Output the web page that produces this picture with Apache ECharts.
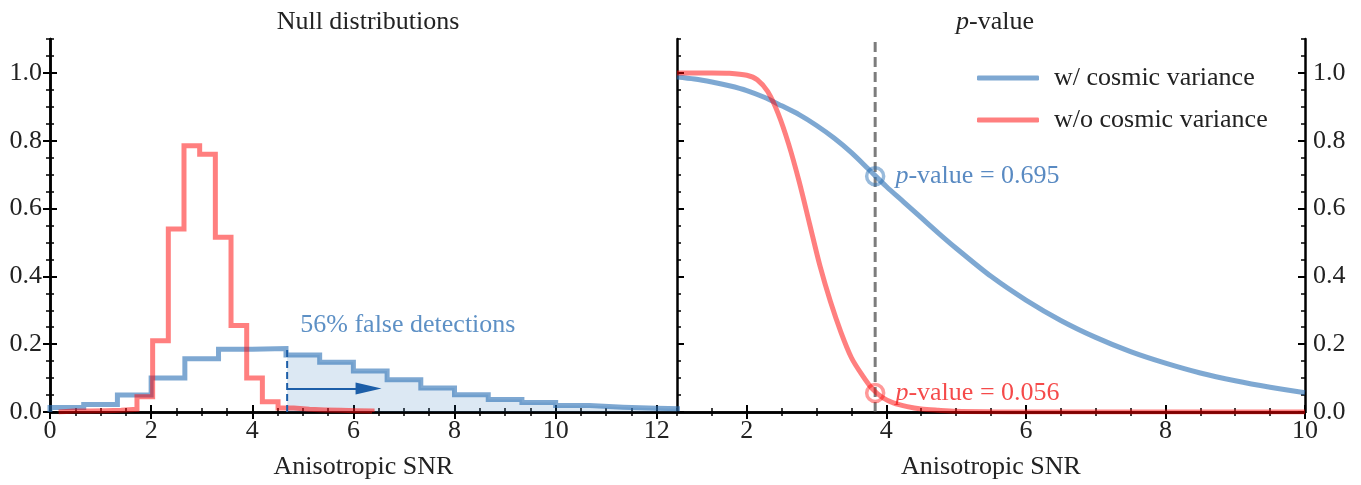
<!DOCTYPE html>
<html><head><meta charset="utf-8">
<script src="https://cdn.jsdelivr.net/npm/echarts@6/dist/echarts.min.js"></script>
<style>html,body{margin:0;padding:0;background:#fff}#c{width:1361px;height:485px}</style>
</head><body><div id="c"></div>
<script>
// ---------- data ----------
const blueEdges = [0, 0.667, 1.333, 2.0, 2.667, 3.333, 4.0, 4.667, 5.333, 6.0, 6.667, 7.333, 8.0, 8.667, 9.333, 10.0, 10.667, 11.333, 12.0, 12.667];
const blueCounts = [0.013, 0.022, 0.05, 0.10, 0.157, 0.185, 0.187, 0.168, 0.147, 0.121, 0.095, 0.071, 0.051, 0.037, 0.028, 0.019, 0.014, 0.011, 0.009];
const redEdges = [0.17, 0.48, 0.79, 1.10, 1.41, 1.72, 2.03, 2.34, 2.65, 2.96, 3.27, 3.58, 3.89, 4.20, 4.51, 4.82, 5.13, 5.44, 5.75, 6.06, 6.37];
const redCounts = [0.003, 0.003, 0.004, 0.005, 0.008, 0.045, 0.21, 0.54, 0.785, 0.76, 0.515, 0.255, 0.10, 0.03, 0.012, 0.008, 0.006, 0.005, 0.004, 0.003];
const threshold = 4.69;
const thresholdTop = 0.186;
const arrowY = 0.069;
const arrowEnd = 6.3;
const falseText = '56% false detections';
const falseTextPos = [4.95, 0.257];

const blueSNR = [1.0, 1.25, 1.5, 1.75, 2.0, 2.25, 2.5, 2.75, 3.0, 3.25, 3.5, 3.75, 4.0, 4.25, 4.5, 4.75, 5.0, 5.5, 6.0, 6.5, 7.0, 7.5, 8.0, 8.5, 9.0, 9.5, 10.0];
const blueP = [0.988, 0.982, 0.973, 0.962, 0.948, 0.928, 0.903, 0.877, 0.845, 0.808, 0.765, 0.715, 0.665, 0.619, 0.573, 0.527, 0.483, 0.40, 0.33, 0.27, 0.22, 0.178, 0.144, 0.115, 0.092, 0.073, 0.057];
const redSNR = [1.0, 1.5, 1.75, 2.0, 2.15, 2.3, 2.45, 2.6, 2.75, 2.9, 3.05, 3.2, 3.35, 3.5, 3.65, 3.8, 3.95, 4.1, 4.3, 4.5, 4.75, 5.0, 5.5, 6.0, 10.0];
const redP = [1.0, 1.0, 0.999, 0.993, 0.98, 0.945, 0.88, 0.79, 0.68, 0.555, 0.43, 0.325, 0.235, 0.16, 0.11, 0.068, 0.042, 0.027, 0.016, 0.009, 0.005, 0.002, 0.0005, 0, 0];
const observedSNR = 3.84;
const pBlue = 0.695;
const pRed = 0.056;
const legendNames = ['w/ cosmic variance', 'w/o cosmic variance'];
const leftXTicks = [0, 2, 4, 6, 8, 10, 12];
const rightXTicks = [2, 4, 6, 8, 10];
const yTicks = [0.0, 0.2, 0.4, 0.6, 0.8, 1.0];

// ---------- styles ----------
const FONT = 'Liberation Serif';
const FS = 26;
const BLUE = 'rgba(40,110,180,0.6)';
const RED = 'rgba(255,0,0,0.5)';
const FILL = 'rgba(40,110,180,0.23)';
const DARKBLUE = '#1c5ea8';
const TXTBLUE = '#3574b6';

function stepData(edges, counts) {
  const d = [[edges[0], 0]];
  for (let i = 0; i < counts.length; i++) d.push([edges[i], counts[i]]);
  d.push([edges[counts.length], counts[counts.length - 1]]);
  d.push([edges[counts.length], 0]);
  return d;
}
function fillData(edges, counts, thr) {
  const d = [];
  for (let i = 0; i < counts.length; i++) {
    if (edges[i + 1] <= thr) continue;
    d.push([Math.max(edges[i], thr), counts[i]]);
  }
  d.push([edges[counts.length], counts[counts.length - 1]]);
  return d;
}
function range(a, b, s) { const r = []; for (let v = a; v <= b + 1e-9; v += s) r.push(+v.toFixed(4)); return r; }
function minorsOf(all, majors) { return all.filter(v => !majors.some(m => Math.abs(m - v) < 1e-6)); }

const xAxis = [], yAxis = [];
function addX(grid, min, max, majors, minors) {
  const base = {type: 'value', gridIndex: grid, min, max, splitLine: {show: false}};
  xAxis.push(Object.assign({}, base, {position: 'bottom',
    axisLine: {show: true, lineStyle: {color: '#000', width: 2.5}},
    axisTick: {show: true, inside: true, length: 7, customValues: majors, lineStyle: {color: '#000', width: 2}},
    axisLabel: {show: true, customValues: majors, color: '#222', fontFamily: FONT, fontSize: FS, margin: 6},
    name: 'Anisotropic SNR', nameLocation: 'middle', nameGap: 42,
    nameTextStyle: {color: '#222', fontFamily: FONT, fontSize: FS}}));
  xAxis.push(Object.assign({}, base, {position: 'bottom', axisLine: {show: false},
    axisTick: {show: true, inside: true, length: 4, customValues: minors, lineStyle: {color: '#000', width: 1.5}},
    axisLabel: {show: false}}));
  xAxis.push(Object.assign({}, base, {position: 'top',
    axisLine: {show: true, lineStyle: {color: '#000', width: 2.5}},
    axisTick: {show: true, inside: true, length: 7, customValues: majors, lineStyle: {color: '#000', width: 2}},
    axisLabel: {show: false}}));
  xAxis.push(Object.assign({}, base, {position: 'top', axisLine: {show: false},
    axisTick: {show: true, inside: true, length: 4, customValues: minors, lineStyle: {color: '#000', width: 1.5}},
    axisLabel: {show: false}}));
}
function addY(grid, labelSide) {
  const majors = yTicks, minors = minorsOf(range(0, 1.1, 0.05), yTicks);
  const base = {type: 'value', gridIndex: grid, min: 0, max: 1.1, splitLine: {show: false}};
  ['left', 'right'].forEach(side => {
    yAxis.push(Object.assign({}, base, {position: side,
      axisLine: {show: true, lineStyle: {color: '#000', width: 2.5}},
      axisTick: {show: true, inside: true, length: 7, customValues: majors, lineStyle: {color: '#000', width: 2}},
      axisLabel: {show: side === labelSide, customValues: majors, color: '#222', fontFamily: FONT, fontSize: FS, margin: 8,
        formatter: v => v.toFixed(1)}}));
    yAxis.push(Object.assign({}, base, {position: side, axisLine: {show: false},
      axisTick: {show: true, inside: true, length: 4, customValues: minors, lineStyle: {color: '#000', width: 1.5}},
      axisLabel: {show: false}}));
  });
}
addX(0, 0, 12.4, leftXTicks, minorsOf(range(0, 12, 0.5), leftXTicks));
addY(0, 'left');
addX(1, 1, 10, rightXTicks, minorsOf(range(1, 10, 0.5), rightXTicks));
addY(1, 'right');

const pLabel = (col) => ({
  show: true, position: 'right', distance: 10, color: col,
  fontFamily: FONT, fontSize: FS,
  rich: {i: {fontStyle: 'italic', fontFamily: FONT, fontSize: FS, color: col}, n: {fontFamily: FONT, fontSize: FS, color: col}}
});

const option = {
  animation: false,
  textStyle: {fontFamily: FONT},
  title: [
    {text: 'Null distributions', left: 363, top: 4, textAlign: 'center',
      textStyle: {fontFamily: FONT, fontSize: FS, fontWeight: 'normal', color: '#222'}},
    {text: '{i|p}{n|-value}', left: 990, top: 4, textAlign: 'center',
      textStyle: {fontFamily: FONT, fontSize: FS, fontWeight: 'normal', color: '#222',
        rich: {i: {fontStyle: 'italic', fontFamily: FONT, fontSize: FS, color: '#222'},
               n: {fontFamily: FONT, fontSize: FS, color: '#222'}}}}
  ],
  grid: [
    {left: 50, right: 684, top: 39, bottom: 61},
    {left: 677, right: 56, top: 39, bottom: 61}
  ],
  legend: {
    data: legendNames, orient: 'vertical', left: 972, top: 60, itemGap: 16,
    icon: 'roundRect', itemWidth: 62, itemHeight: 5,
    textStyle: {fontFamily: FONT, fontSize: FS, color: '#222', lineHeight: 26, padding: [0, 0, 0, 10]}
  },
  xAxis, yAxis,
  series: [
    {type: 'line', name: 'fill', xAxisIndex: 0, yAxisIndex: 0, step: 'end', symbol: 'none',
      data: fillData(blueEdges, blueCounts, threshold), lineStyle: {width: 0}, areaStyle: {color: FILL}, z: 1},
    {type: 'line', name: 'hist_w', xAxisIndex: 0, yAxisIndex: 0, step: 'end', symbol: 'none',
      data: stepData(blueEdges, blueCounts), lineStyle: {color: BLUE, width: 5, join: 'miter'}, z: 2},
    {type: 'line', name: 'hist_wo', xAxisIndex: 0, yAxisIndex: 0, step: 'end', symbol: 'none',
      data: stepData(redEdges, redCounts), lineStyle: {color: RED, width: 5, join: 'miter'}, z: 3},
    {type: 'line', name: 'thr', xAxisIndex: 0, yAxisIndex: 0, symbol: 'none',
      data: [[threshold, 0], [threshold, thresholdTop]], lineStyle: {color: DARKBLUE, width: 2, type: [7, 4]}, z: 4,
      markLine: {silent: true, symbol: ['none', 'triangle'], symbolSize: [12, 26],
        lineStyle: {color: DARKBLUE, width: 2, type: 'solid'}, label: {show: false},
        data: [[{coord: [threshold, arrowY]}, {coord: [arrowEnd, arrowY]}]]}},
    {type: 'scatter', name: 'txt', xAxisIndex: 0, yAxisIndex: 0, symbolSize: 0, data: [falseTextPos],
      label: {show: true, position: 'right', distance: 0, formatter: falseText, color: TXTBLUE, fontFamily: FONT, fontSize: FS}},
    // right panel
    {type: 'line', name: legendNames[0], xAxisIndex: 4, yAxisIndex: 4, symbol: 'none', smooth: 0.3,
      data: blueSNR.map((x, i) => [x, blueP[i]]), lineStyle: {color: BLUE, width: 5}, itemStyle: {color: BLUE}, z: 3},
    {type: 'line', name: legendNames[1], xAxisIndex: 4, yAxisIndex: 4, symbol: 'none', smooth: 0.3,
      data: redSNR.map((x, i) => [x, redP[i]]), lineStyle: {color: RED, width: 5}, itemStyle: {color: RED}, z: 3},
    {type: 'line', name: 'obs', xAxisIndex: 4, yAxisIndex: 4, symbol: 'none',
      data: [[observedSNR, 0], [observedSNR, 1.1]], lineStyle: {color: 'rgba(80,80,80,0.75)', width: 3, type: [10, 5]}, z: 2},
    {type: 'scatter', name: 'pb', xAxisIndex: 4, yAxisIndex: 4, symbol: 'circle', symbolSize: 17,
      itemStyle: {color: 'rgba(0,0,0,0)', borderColor: BLUE, borderWidth: 3.5},
      data: [[observedSNR, pBlue]], z: 5,
      label: Object.assign(pLabel('#2f6db3'), {formatter: '{i|p}{n|-value = ' + pBlue.toFixed(3) + '}'})},
    {type: 'scatter', name: 'pr', xAxisIndex: 4, yAxisIndex: 4, symbol: 'circle', symbolSize: 17,
      itemStyle: {color: 'rgba(0,0,0,0)', borderColor: RED, borderWidth: 3.5},
      data: [[observedSNR, pRed]], z: 5,
      label: Object.assign(pLabel('#f21d1d'), {formatter: '{i|p}{n|-value = ' + pRed.toFixed(3) + '}'})}
  ]
};
const chart = echarts.init(document.getElementById('c'));
chart.setOption(option);
</script></body></html>
